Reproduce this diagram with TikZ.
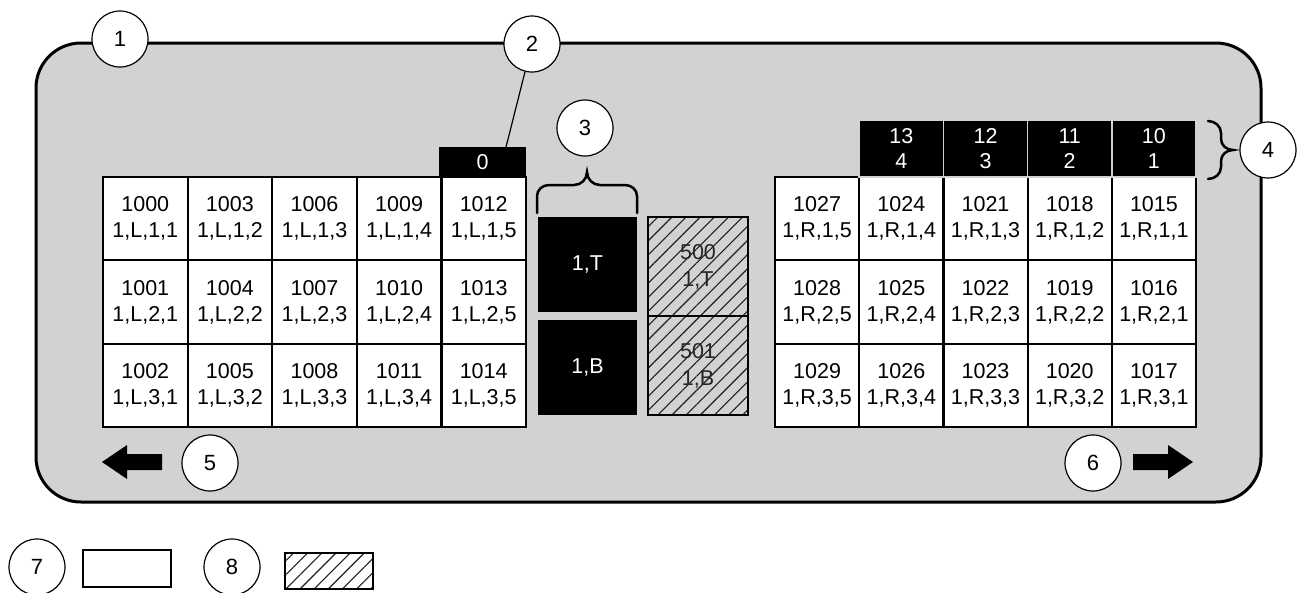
\documentclass[tikz,border=0pt]{standalone}
\usepackage{fontspec}
\setmainfont{Liberation Sans}
\usetikzlibrary{patterns.meta}
\definecolor{bg}{RGB}{210,210,210}
\definecolor{hatch}{RGB}{30,30,30}
\tikzset{
  callout/.style={circle,draw,fill=white,line width=1.2pt,minimum size=56pt,inner sep=0pt,font=\fontsize{22}{26}\selectfont},
  cell/.style={draw,fill=white,line width=2.2pt,minimum width=84.6pt,minimum height=83.3pt,inner sep=0pt,align=center,font=\fontsize{21.5}{26}\selectfont},
  rcell/.style={cell,minimum width=84.2pt},
  head/.style={draw=bg,fill=black,text=white,line width=1.5pt,minimum width=84.2pt,minimum height=57pt,inner sep=0pt,align=center,font=\fontsize{21.5}{25}\selectfont},
  blk/.style={fill=black,text=white,minimum width=99pt,minimum height=95pt,inner sep=0pt,font=\fontsize{21.5}{25}\selectfont},
  hat/.style={draw,line width=2pt,preaction={fill=bg},pattern={Lines[angle=45,distance=10pt,line width=1.1pt]},pattern color=hatch,minimum width=100pt,minimum height=99pt,inner sep=0pt,align=center,font=\fontsize{21.5}{27}\selectfont,text=black!85},
  brc/.style={line width=2.5pt,line cap=round},
  bigarrow/.style={fill=black}
}
\begin{document}
\begin{tikzpicture}[x=1pt,y=-1pt]
\useasboundingbox (0,0) rectangle (1301,592);
% frame
\draw[line width=3pt,fill=bg,rounded corners=45pt] (36,43) rectangle (1261,502);
% left grid
\foreach \c in {0,...,4}{
  \foreach \r in {0,...,2}{
    \pgfmathtruncatemacro{\num}{1000+3*\c+\r}
    \pgfmathtruncatemacro{\rr}{\r+1}
    \pgfmathtruncatemacro{\cc}{\c+1}
    \node[cell] (L-\r-\c) at ({103+84.6*\c+42.3},{177+83.33*\r+41.67}) {\num\\1,L,\rr,\cc};
  }
}
% right grid
\foreach \c in {0,...,4}{
  \foreach \r in {0,...,2}{
    \pgfmathtruncatemacro{\num}{1027-3*\c+\r}
    \pgfmathtruncatemacro{\rr}{\r+1}
    \pgfmathtruncatemacro{\cc}{5-\c}
    \node[rcell] (R-\r-\c) at ({775+84.2*\c+42.1},{177+83.33*\r+41.67}) {\num\\1,R,\rr,\cc};
  }
}
% headers
\node[head] (h13) at ({775+84.2*1+42.1},148.5) {13\\4};
\node[head] (h12) at ({775+84.2*2+42.1},148.5) {12\\3};
\node[head] (h11) at ({775+84.2*3+42.1},148.5) {11\\2};
\node[head] (h10) at ({775+84.2*4+42.1},148.5) {10\\1};
% zero box
\node[fill=black,text=white,minimum width=87pt,minimum height=30pt,inner sep=0pt,font=\fontsize{21.5}{25}\selectfont] (zero) at (482.5,162) {0};
% center blocks
\node[blk] (top) at (587.5,264.5) {1,T};
\node[blk] (bot) at (587.5,367.5) {1,B};
\node[hat] (h500) at (698,266.5) {500\\1,T};
\node[hat] (h501) at (698,365.5) {501\\1,B};
% callouts
\node[callout] (c1) at (120,39) {1};
\node[callout] (c2) at (532,44) {2};
\node[callout] (c3) at (585,128) {3};
\node[callout] (c4) at (1268,150) {4};
\node[callout] (c5) at (210,463) {5};
\node[callout] (c6) at (1093,463) {6};
\node[callout] (c7) at (37,567) {7};
\node[callout] (c8) at (232,567) {8};
% leader 2
\coordinate (p0) at (502,163);
\draw[line width=1.2pt] (c2) -- (p0);
% brace 3
\draw[brc] (537,213) -- (537,196) to[out=90,in=180] (549,185) -- (574,185) to[out=0,in=-90] (587,172) to[out=-90,in=180] (600,185) -- (625,185) to[out=0,in=90] (637,196) -- (637,213);
% brace 4
\draw[brc] (1208,121) to[out=0,in=90] (1221,133) -- (1221,139) to[out=-90,in=180] (1233,150) to[out=180,in=90] (1221,161) -- (1221,167) to[out=-90,in=0] (1208,179);
% arrows
\fill[bigarrow] (102,462) -- (127,445) -- (127,454) -- (162,454) -- (162,470) -- (127,470) -- (127,479) -- cycle;
\fill[bigarrow] (1193,462) -- (1168,445) -- (1168,454) -- (1133,454) -- (1133,470) -- (1168,470) -- (1168,479) -- cycle;
% legend
\node[draw,line width=2pt,fill=white,minimum width=88pt,minimum height=37pt,inner sep=0pt] (leg7) at (127,568.5) {};
\node[draw,line width=2pt,preaction={fill=white},pattern={Lines[angle=45,distance=10pt,line width=1.1pt]},pattern color=hatch,minimum width=88pt,minimum height=36pt,inner sep=0pt] (leg8) at (329,571) {};
\end{tikzpicture}
\end{document}
